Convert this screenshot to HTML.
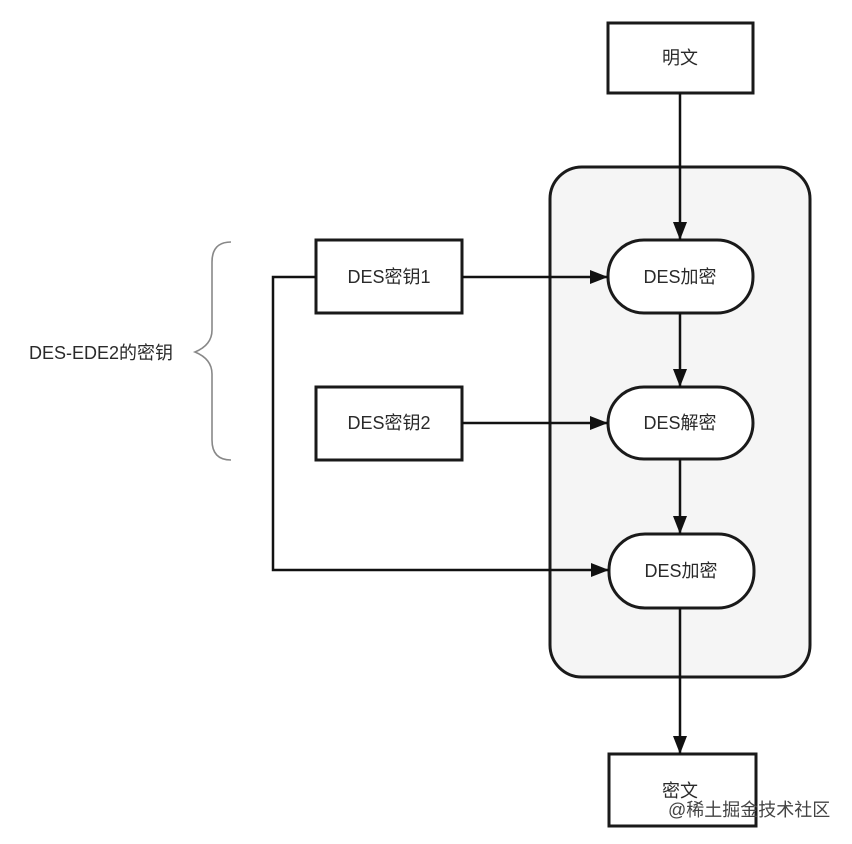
<!DOCTYPE html>
<html><head><meta charset="utf-8">
<style>
html,body{margin:0;padding:0;background:#fff;}
svg{display:block;}
text{font-family:"Liberation Sans","Noto Sans CJK SC",sans-serif;fill:#2a2a2a;}
</style></head>
<body>
<svg width="852" height="844" viewBox="0 0 852 844" xmlns="http://www.w3.org/2000/svg">
<defs>
<marker id="a" markerWidth="18" markerHeight="14" refX="18" refY="7" orient="auto" markerUnits="userSpaceOnUse">
<path d="M0,0 L18,7 L0,14 Z" fill="#111"/>
</marker>
</defs>
<rect x="550" y="167" width="260" height="510" rx="32" fill="#f5f5f5" stroke="#1a1a1a" stroke-width="3"/>
<rect x="608" y="23" width="145" height="70" fill="#fff" stroke="#1a1a1a" stroke-width="3"/>
<text x="680" y="64" font-size="18" text-anchor="middle">明文</text>
<rect x="609" y="754" width="147" height="72" fill="#fff" stroke="#1a1a1a" stroke-width="3"/>
<text x="680" y="797" font-size="18" text-anchor="middle">密文</text>
<rect x="608" y="240" width="145" height="73" rx="36" fill="#fff" stroke="#1a1a1a" stroke-width="3"/>
<text x="680" y="283" font-size="18" text-anchor="middle">DES加密</text>
<rect x="608" y="387" width="145" height="72" rx="36" fill="#fff" stroke="#1a1a1a" stroke-width="3"/>
<text x="680" y="429" font-size="18" text-anchor="middle">DES解密</text>
<rect x="609" y="534" width="145" height="74" rx="36" fill="#fff" stroke="#1a1a1a" stroke-width="3"/>
<text x="681" y="577" font-size="18" text-anchor="middle">DES加密</text>
<rect x="316" y="240" width="146" height="73" fill="#fff" stroke="#1a1a1a" stroke-width="3"/>
<text x="389" y="283" font-size="18" text-anchor="middle">DES密钥1</text>
<rect x="316" y="387" width="146" height="73" fill="#fff" stroke="#1a1a1a" stroke-width="3"/>
<text x="389" y="429" font-size="18" text-anchor="middle">DES密钥2</text>
<g stroke="#111" stroke-width="2.5" fill="none">
<line x1="680" y1="93" x2="680" y2="240" marker-end="url(#a)"/>
<line x1="680" y1="313" x2="680" y2="387" marker-end="url(#a)"/>
<line x1="680" y1="459" x2="680" y2="534" marker-end="url(#a)"/>
<line x1="680" y1="608" x2="680" y2="754" marker-end="url(#a)"/>
<line x1="462" y1="277" x2="608" y2="277" marker-end="url(#a)"/>
<line x1="462" y1="423" x2="608" y2="423" marker-end="url(#a)"/>
<polyline points="316,277 273,277 273,570 609,570" marker-end="url(#a)"/>
</g>
<path d="M231,242 Q212,242 212,262 L212,330 Q212,345 195,352 Q212,359 212,374 L212,440 Q212,460 231,460" fill="none" stroke="#888" stroke-width="1.6"/>
<text x="29" y="359" font-size="18">DES-EDE2的密钥</text>
<text x="668" y="816" font-size="18" style="fill:#444">@稀土掘金技术社区</text>
</svg>
</body></html>
